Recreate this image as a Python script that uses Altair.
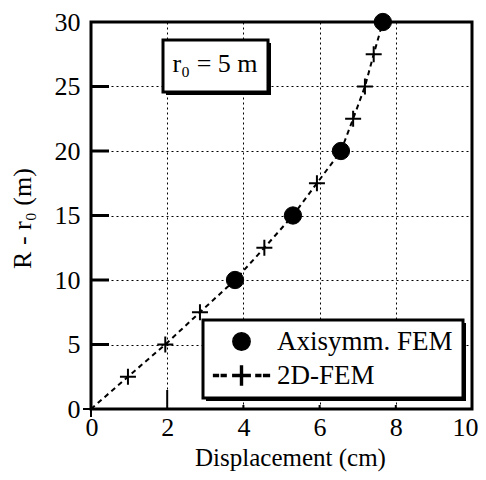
import altair as alt
import pandas as pd

# ---- data ----
axi_x = [3.78, 5.30, 6.56, 7.66]
axi_y = [10, 15, 20, 30]

fem_x = [0.0, 0.97, 1.95, 2.86, 3.78, 4.55, 5.30, 5.93, 6.56, 6.88, 7.19, 7.42, 7.66]
fem_y = [0, 2.5, 5, 7.5, 10, 12.5, 15, 17.5, 20, 22.5, 25, 27.5, 30]

x_ticks = [0, 2, 4, 6, 8, 10]
y_ticks = [0, 5, 10, 15, 20, 25, 30]
y_inner_ticks = [5, 10, 15, 20, 25]
x_inner_long = [2]
x_inner_short = [4, 6, 8]

series_names = ["Axisymm. FEM", "2D-FEM"]
x_title = "Displacement (cm)"
y_title = "R - r\u2080 (m)"
note_text = "r\u2080 = 5 m"

FONT = "Liberation Serif"
W, H = 381, 387

# legend glyph for the 2D-FEM series: "- - + - -" built from thin filled bars
DASHPLUS = ("M-3.22,-0.11H-2.67V0.11H-3.22Z"
            "M-2.33,-0.11H-1.78V0.11H-2.33Z"
            "M-1,-0.11H1V0.11H-1Z"
            "M-0.11,-1.1H0.11V1.1H-0.11Z"
            "M1.67,-0.11H2.22V0.11H1.67Z"
            "M2.56,-0.11H3.22V0.11H2.56Z")
PLUS = "M-1,0H1M0,-1V1"

axi = pd.DataFrame({"x": axi_x, "y": axi_y, "series": series_names[0]})
fem = pd.DataFrame({"x": fem_x, "y": fem_y, "series": series_names[1]})
one = pd.DataFrame({"a": [0]})

xs = alt.Scale(domain=[0, 10], nice=False)
ys = alt.Scale(domain=[0, 30], nice=False)

x_axis = alt.Axis(values=x_ticks, format="d", title=x_title, grid=True,
                  titleX=199, titleY=56, titleBaseline="alphabetic", titleFontSize=25,
                  labelPadding=5, labelFlush=True, labelFlushOffset=6)
y_axis = alt.Axis(values=y_ticks, format="d", title=y_title, grid=True,
                  titleX=-69, titleY=196, titleBaseline="middle", titleAlign="center",
                  titleAngle=270, labelPadding=11, labelFlush=False)

X = lambda f: alt.X(f, scale=xs, axis=x_axis)
Y = lambda f: alt.Y(f, scale=ys, axis=y_axis)

line = alt.Chart(fem).mark_line(color="black", strokeWidth=2, strokeDash=[5, 4]).encode(
    x=X("x:Q"), y=Y("y:Q"), order=alt.Order("y:Q"),
)

pluses = alt.Chart(fem).mark_point(shape=PLUS, size=256, stroke="black", strokeWidth=2,
                                   filled=False, opacity=1).encode(
    x=X("x:Q"), y=Y("y:Q"),
)

circles = alt.Chart(axi).mark_point(filled=True, fill="black", stroke="black",
                                    strokeWidth=1, size=300, opacity=1).encode(
    x=X("x:Q"), y=Y("y:Q"),
    shape=alt.Shape("series:N",
                    scale=alt.Scale(domain=series_names, range=["circle", DASHPLUS]),
                    legend=alt.Legend(title=None, orient="none", legendX=112, legendY=298,
                                      padding=8, labelOffset=22, rowPadding=6,
                                      symbolOffset=17,
                                      labelFont=FONT, labelFontSize=27, labelColor="black",
                                      labelLimit=400,
                                      symbolSize=300, symbolFillColor="black",
                                      symbolOpacity=1)),
)

y_tick_rules = alt.Chart(pd.DataFrame({"v": y_inner_ticks})).mark_rule(
    color="black", strokeWidth=3).encode(
    y=Y("v:Q"), x=alt.value(0), x2=alt.value(18))

x_tick_long = alt.Chart(pd.DataFrame({"v": x_inner_long})).mark_rule(
    color="black", strokeWidth=2).encode(
    x=X("v:Q"), y=alt.value(H), y2=alt.value(H - 19))

x_tick_short = alt.Chart(pd.DataFrame({"v": x_inner_short})).mark_rule(
    color="black", strokeWidth=2).encode(
    x=X("v:Q"), y=alt.value(H), y2=alt.value(H - 4))

note_shadow = alt.Chart(one).mark_rect(color="black").encode(
    x=alt.value(75), x2=alt.value(180), y=alt.value(21), y2=alt.value(73))
note_box = alt.Chart(one).mark_rect(fill="white", stroke="black", strokeWidth=3).encode(
    x=alt.value(72), x2=alt.value(177), y=alt.value(18), y2=alt.value(70))
note = alt.Chart(one).mark_text(font=FONT, fontSize=26, color="black",
                                baseline="alphabetic", align="center").encode(
    x=alt.value(124), y=alt.value(50), text=alt.value(note_text))

legend_shadow = alt.Chart(one).mark_rect(color="black").encode(
    x=alt.value(115), x2=alt.value(375), y=alt.value(301), y2=alt.value(379))
legend_box = alt.Chart(one).mark_rect(fill="white", stroke="black", strokeWidth=3).encode(
    x=alt.value(112), x2=alt.value(372), y=alt.value(298), y2=alt.value(376))

chart = alt.layer(
    line, y_tick_rules, x_tick_long, x_tick_short,
    note_shadow, note_box, note, legend_shadow, legend_box,
    pluses, circles,
).properties(
    width=W, height=H,
    autosize=alt.AutoSizeParams(type="none"),
    padding={"left": 83, "top": 14, "right": 6, "bottom": 63},
).configure_view(
    stroke="black", strokeWidth=3
).configure_axis(
    labelFont=FONT, labelFontSize=26, labelColor="black",
    titleFont=FONT, titleFontSize=26, titleFontWeight="normal", titleColor="black",
    gridColor="black", gridDash=[2, 3], gridWidth=1, gridOpacity=1,
    domain=False, ticks=False,
)

chart.save("out.html", embed_options={"renderer": "svg", "actions": False})
